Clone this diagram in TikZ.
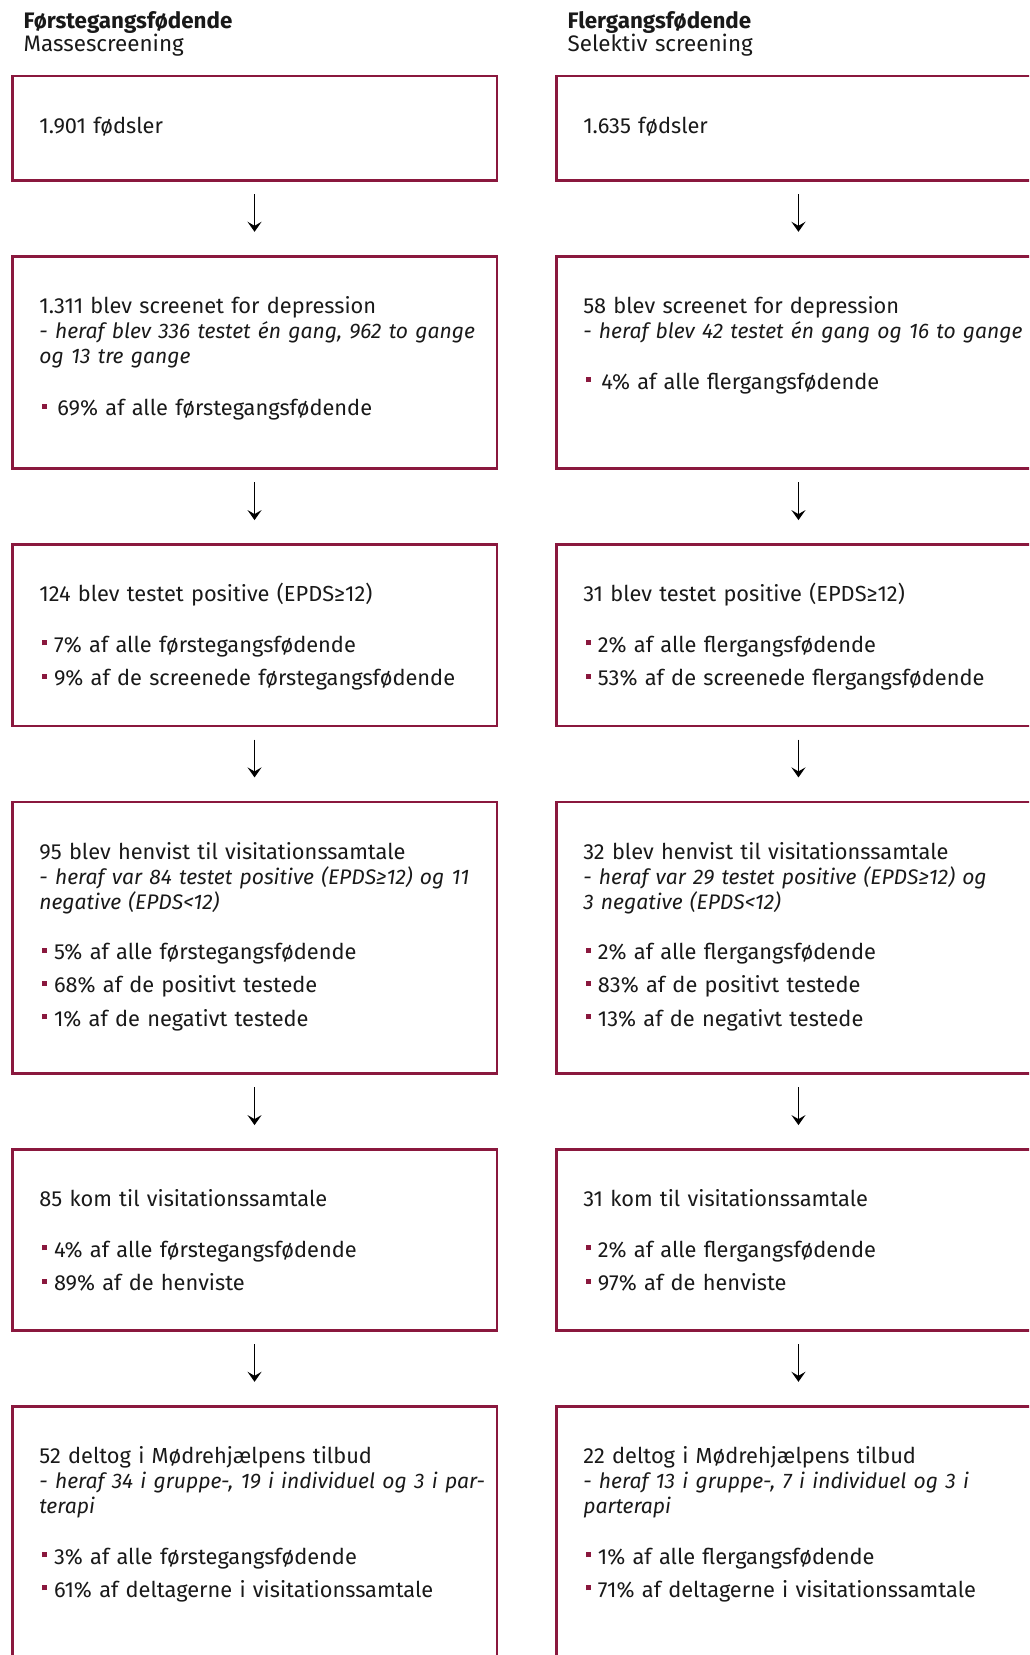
\documentclass[tikz,border=0pt]{standalone}
\usepackage{fontspec}
\setmainfont{Fira Sans}
\usepackage{xcolor}
\usetikzlibrary{positioning,arrows.meta,calc}
\definecolor{vinrod}{RGB}{138,24,62}
\tikzset{
  boks/.style={rectangle, draw=vinrod, line width=1.3pt, minimum width=242.25pt, outer sep=0pt, inner sep=0pt},
  tekst/.style={anchor=base west, align=left, text width=300pt, inner sep=0pt, font=\fontsize{10.9}{12.5}\selectfont, text=black!90},
  overskrift/.style={anchor=base west, align=left, text width=200pt, inner sep=0pt, font=\fontsize{11.2}{11.85}\selectfont, text=black!90},
  pil/.style={-{Stealth[length=5pt,width=7pt,inset=2pt]}, line width=0.9pt, shorten <=6.9pt, shorten >=12.2pt}
}
\newcommand{\pkt}[1][3.6pt]{\hspace*{1.2pt}\textcolor{vinrod}{\rule[3.5pt]{2.5pt}{2.5pt}}\hspace{#1}}
\newcommand{\kursiv}[1]{{\fontsize{10.55}{12.5}\selectfont\itshape #1}}

\begin{document}
\begin{tikzpicture}[x=0.5pt, y=-0.5pt, node distance=38pt]
\useasboundingbox (0,0) rectangle (1029,1655);
\clip (0,0) rectangle (1029,1655);

% venstre kolonne
\node[boks, minimum height=52.2pt, anchor=north west] (l1) at (12.3,75.8) {};
\node[boks, minimum height=106.15pt, below=of l1] (l2) {};
\node[boks, minimum height=90.65pt, below=of l2] (l3) {};
\node[boks, minimum height=135.85pt, below=of l3] (l4) {};
\node[boks, minimum height=90.35pt, below=of l4] (l5) {};
\node[boks, minimum height=160pt, below=of l5] (l6) {};

% hoejre kolonne
\node[boks, minimum height=52.2pt, right=29.7pt of l1] (r1) {};
\node[boks, minimum height=106.15pt, below=of r1] (r2) {};
\node[boks, minimum height=90.65pt, below=of r2] (r3) {};
\node[boks, minimum height=135.85pt, below=of r3] (r4) {};
\node[boks, minimum height=90.35pt, below=of r4] (r5) {};
\node[boks, minimum height=160pt, below=of r5] (r6) {};

\node[overskrift] (lh) at ($(l1.north west)+(11,-47.8)$) {\textbf{Førstegangsfødende}\\Massescreening};
\node[overskrift] (rh) at ($(r1.north west)+(11,-47.8)$) {\textbf{Flergangsfødende}\\Selektiv screening};

\node[tekst] (lt1) at ($(l1.north west)+(26.7,57.3)$) {1.901 fødsler};
\node[tekst] (lt2) at ($(l2.north west)+(26.7,57.3)$) {1.311 blev screenet for depression\\
  \kursiv{- heraf blev 336 testet én gang, 962 to gange}\\
  \kursiv{og 13 tre gange}\\[13.5pt]
  \pkt[5.3pt]69\% af alle førstegangsfødende};
\node[tekst] (lt3) at ($(l3.north west)+(26.7,57.3)$) {124 blev testet positive (EPDS≥12)\\[12.75pt]
  \pkt 7\% af alle førstegangsfødende\\[4.17pt]
  \pkt 9\% af de screenede førstegangsfødende};
\node[tekst] (lt4) at ($(l4.north west)+(26.7,57.3)$) {95 blev henvist til visitationssamtale\\
  \kursiv{- heraf var 84 testet positive (EPDS≥12) og 11}\\
  \kursiv{negative (EPDS<12)}\\[12.75pt]
  \pkt 5\% af alle førstegangsfødende\\[4.17pt]
  \pkt 68\% af de positivt testede\\[4.17pt]
  \pkt 1\% af de negativt testede};
\node[tekst] (lt5) at ($(l5.north west)+(26.7,57.3)$) {85 kom til visitationssamtale\\[12.75pt]
  \pkt 4\% af alle førstegangsfødende\\[4.17pt]
  \pkt 89\% af de henviste};
\node[tekst] (lt6) at ($(l6.north west)+(26.7,57.3)$) {52 deltog i Mødrehjælpens tilbud\\
  \kursiv{- heraf 34 i gruppe-, 19 i individuel og 3 i par-}\\
  \kursiv{terapi}\\[12.75pt]
  \pkt 3\% af alle førstegangsfødende\\[4.17pt]
  \pkt 61\% af deltagerne i visitationssamtale};

\node[tekst] (rt1) at ($(r1.north west)+(26.7,57.3)$) {1.635 fødsler};
\node[tekst] (rt2) at ($(r2.north west)+(26.7,57.3)$) {58 blev screenet for depression\\
  \kursiv{- heraf blev 42 testet én gang og 16 to gange}\\[12.75pt]
  \pkt[5.3pt]4\% af alle flergangsfødende};
\node[tekst] (rt3) at ($(r3.north west)+(26.7,57.3)$) {31 blev testet positive (EPDS≥12)\\[12.75pt]
  \pkt 2\% af alle flergangsfødende\\[4.17pt]
  \pkt 53\% af de screenede flergangsfødende};
\node[tekst] (rt4) at ($(r4.north west)+(26.7,57.3)$) {32 blev henvist til visitationssamtale\\
  \kursiv{- heraf var 29 testet positive (EPDS≥12) og}\\
  \kursiv{3 negative (EPDS<12)}\\[12.75pt]
  \pkt 2\% af alle flergangsfødende\\[4.17pt]
  \pkt 83\% af de positivt testede\\[4.17pt]
  \pkt 13\% af de negativt testede};
\node[tekst] (rt5) at ($(r5.north west)+(26.7,57.3)$) {31 kom til visitationssamtale\\[12.75pt]
  \pkt 2\% af alle flergangsfødende\\[4.17pt]
  \pkt 97\% af de henviste};
\node[tekst] (rt6) at ($(r6.north west)+(26.7,57.3)$) {22 deltog i Mødrehjælpens tilbud\\
  \kursiv{- heraf 13 i gruppe-, 7 i individuel og 3 i}\\
  \kursiv{parterapi}\\[12.75pt]
  \pkt 1\% af alle flergangsfødende\\[4.17pt]
  \pkt 71\% af deltagerne i visitationssamtale};

\foreach \a/\b in {l1/l2,l2/l3,l3/l4,l4/l5,l5/l6,r1/r2,r2/r3,r3/r4,r4/r5,r5/r6}
  \draw[pil] (\a) -- (\b);

\end{tikzpicture}
\end{document}
